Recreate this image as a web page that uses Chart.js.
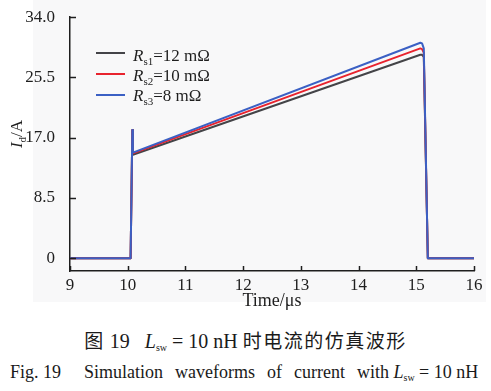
<!DOCTYPE html>
<html>
<head>
<meta charset="utf-8">
<script src="https://cdn.jsdelivr.net/npm/chart.js@4/dist/chart.umd.min.js"></script>
<style>
  html, body { margin: 0; padding: 0; background: #fff; }
  #wrap { position: relative; width: 491px; height: 391px; overflow: hidden; }
  #chart { position: absolute; left: 0; top: 0; }
  .cap { position: absolute; color: #1a1a1a; white-space: nowrap;
         font-family: 'Liberation Serif', 'Noto Sans CJK SC', serif; }
  .cap sub { font-size: 10px; vertical-align: -3px; }
  #capZh { left: 0; width: 491px; text-align: center; top: 329px; font-size: 20px; line-height: 22px; }
  #capZh .zh { font-family: 'Noto Sans CJK SC', sans-serif; font-size: 19px; letter-spacing: 1.5px; }
  #capEn { left: 10px; top: 361px; font-size: 18px; line-height: 22px; }
  #capEn .mid { margin-left: 23px; word-spacing: 7.5px; }
</style>
</head>
<body>
<div id="wrap">
  <canvas id="chart" width="491" height="320"></canvas>
  <div class="cap" id="capZh"><span class="zh">图</span> 19&nbsp;&nbsp;&nbsp;<i>L</i><sub>sw</sub> = 10 nH <span class="zh">时电流的仿真波形</span></div>
  <div class="cap" id="capEn">Fig. 19<span class="mid">Simulation waveforms of current with</span> <i>L</i><sub>sw</sub> = 10 nH</div>
</div>
<script>
// ---- data (time in µs, current in A) ----
const timeUs   = [9.00, 10.05, 10.08, 10.09, 15.07, 15.10, 15.13, 15.20, 16.00];
const idRs1    = [0,    0,     18.1,  14.6,  28.7,  28.7,  28.4,  0,     0];   // Rs1 = 12 mΩ
const idRs2    = [0,    0,     18.1,  14.8,  29.6,  29.5,  29.0,  0,     0];   // Rs2 = 10 mΩ
const idRs3    = [0,    0,     18.1,  14.9,  30.4,  30.3,  29.6,  0,     0];   // Rs3 = 8 mΩ
const xTicks   = [9, 10, 11, 12, 13, 14, 15, 16];
const yTicks   = [0, 8.5, 17, 25.5, 34];
const yLabels  = ['0', '8.5', '17.0', '25.5', '34.0'];
const legendSub  = ['s1', 's2', 's3'];
const legendVal  = ['=12 mΩ', '=10 mΩ', '=8 mΩ'];

const COL_BLACK = '#444448';
const COL_RED   = '#e8232e';
const COL_BLUE  = '#3b60c4';
const AXIS      = '#1e1e1e';
const SERIF     = "'Liberation Serif', 'DejaVu Serif', serif";

const pts = arr => timeUs.map((t, i) => ({ x: t, y: arr[i] }));

// inward ticks, axis titles, legend with subscripts
const decorPlugin = {
  id: 'decor',
  beforeDraw(chart) {
    const ctx = chart.ctx;
    ctx.save();
    ctx.fillStyle = '#f8f8f9';
    ctx.fillRect(33, 0, 453, 302);
    ctx.restore();
  },
  afterDraw(chart) {
    const { ctx, chartArea } = chart;
    const xs = chart.scales.x, ys = chart.scales.y;
    ctx.save();
    ctx.strokeStyle = AXIS;
    ctx.lineWidth = 1.5;
    xTicks.forEach(v => {
      const px = Math.round(xs.getPixelForValue(v)) + 0.5;
      ctx.beginPath(); ctx.moveTo(px, chartArea.bottom); ctx.lineTo(px, chartArea.bottom - 5); ctx.stroke();
    });
    yTicks.forEach(v => {
      const py = Math.round(ys.getPixelForValue(v)) + 0.5;
      ctx.beginPath(); ctx.moveTo(chartArea.left, py); ctx.lineTo(chartArea.left + 6, py); ctx.stroke();
    });

    // x title
    ctx.fillStyle = AXIS;
    ctx.font = '18px ' + SERIF;
    ctx.textAlign = 'center';
    ctx.textBaseline = 'alphabetic';
    ctx.fillText('Time/μs', (chartArea.left + chartArea.right) / 2, 306);

    // y title: I_d/A rotated
    ctx.save();
    ctx.translate(22, 134);
    ctx.rotate(-Math.PI / 2);
    ctx.textAlign = 'left';
    ctx.font = 'italic 17px ' + SERIF;
    const wI = ctx.measureText('I').width;
    ctx.font = '11px ' + SERIF;
    const wd = ctx.measureText('d').width;
    ctx.font = '17px ' + SERIF;
    const wA = ctx.measureText('/A').width;
    let x0 = -(wI + wd + wA) / 2;
    ctx.font = 'italic 17px ' + SERIF; ctx.fillText('I', x0, 0); x0 += wI;
    ctx.font = '11px ' + SERIF; ctx.fillText('d', x0, 4); x0 += wd;
    ctx.font = '17px ' + SERIF; ctx.fillText('/A', x0, 0);
    ctx.restore();

    // legend
    const cols = [COL_BLACK, COL_RED, COL_BLUE];
    const lineY = [53, 74, 95];
    const baseY = [60.5, 81, 101];
    ctx.textAlign = 'left';
    cols.forEach((c, i) => {
      ctx.strokeStyle = c; ctx.lineWidth = 2;
      ctx.beginPath(); ctx.moveTo(96, lineY[i]); ctx.lineTo(125, lineY[i]); ctx.stroke();
      let x = 133;
      ctx.fillStyle = AXIS;
      ctx.font = 'italic 17px ' + SERIF; ctx.fillText('R', x, baseY[i]); x += ctx.measureText('R').width;
      ctx.font = '11px ' + SERIF; ctx.fillText(legendSub[i], x, baseY[i] + 4); x += ctx.measureText(legendSub[i]).width;
      ctx.font = '17px ' + SERIF; ctx.fillText(legendVal[i], x, baseY[i]);
    });
    ctx.restore();
  }
};

new Chart(document.getElementById('chart'), {
  type: 'line',
  data: {
    datasets: [
      { label: 'Rs1=12 mΩ', data: pts(idRs1), borderColor: COL_BLACK, order: 2 },
      { label: 'Rs2=10 mΩ', data: pts(idRs2), borderColor: COL_RED, order: 1 },
      { label: 'Rs3=8 mΩ',  data: pts(idRs3), borderColor: COL_BLUE, order: 0 }
    ].map(d => ({ ...d, borderWidth: 2, pointRadius: 0, tension: 0, fill: false, borderJoinStyle: 'round' }))
  },
  options: {
    responsive: false,
    animation: false,
    layout: { padding: { left: 0, right: 17, top: 15, bottom: 0 } },
    plugins: { legend: { display: false }, tooltip: { enabled: false } },
    scales: {
      x: {
        type: 'linear', min: 9, max: 16,
        afterBuildTicks: s => { s.ticks = xTicks.map(v => ({ value: v })); },
        afterFit: s => { s.height = 49; },
        grid: { display: false },
        border: { display: true, color: AXIS, width: 1.5 },
        ticks: { color: AXIS, padding: -4, font: { family: SERIF, size: 17 }, maxRotation: 0 }
      },
      y: {
        type: 'linear', min: -1.8, max: 34,
        afterBuildTicks: s => { s.ticks = yTicks.map(v => ({ value: v })); },
        afterFit: s => { s.width = 70; },
        grid: { display: false },
        border: { display: true, color: AXIS, width: 1.5 },
        ticks: { color: AXIS, padding: 7, font: { family: SERIF, size: 17 },
                 callback: v => yLabels[yTicks.indexOf(v)] ?? '' }
      }
    }
  },
  plugins: [decorPlugin]
});
</script>
</body>
</html>
